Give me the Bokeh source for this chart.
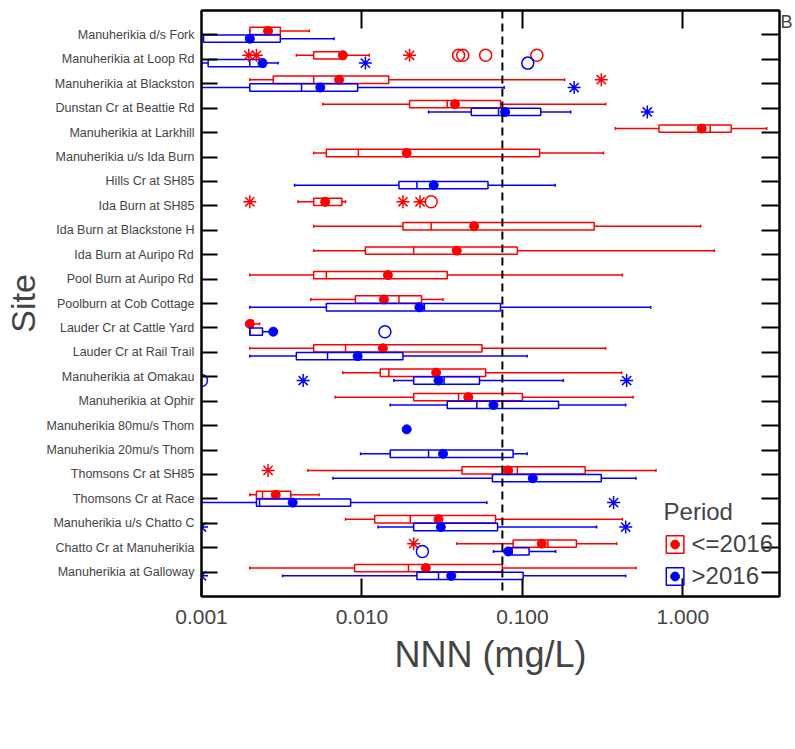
from bokeh.plotting import figure
from bokeh.models import (Range1d, FixedTicker, LogAxis, LinearAxis, Span,
                          Legend, LegendItem, ColumnDataSource, PrintfTickFormatter)
from bokeh.embed import file_html
from bokeh.resources import INLINE

SITES = ["Manuherikia d/s Fork", "Manuherikia at Loop Rd", "Manuherikia at Blackston",
         "Dunstan Cr at Beattie Rd", "Manuherikia at Larkhill", "Manuherikia u/s Ida Burn",
         "Hills Cr at SH85", "Ida Burn at SH85", "Ida Burn at Blackstone H",
         "Ida Burn at Auripo Rd", "Pool Burn at Auripo Rd", "Poolburn at Cob Cottage",
         "Lauder Cr at Cattle Yard", "Lauder Cr at Rail Trail", "Manuherikia at Omakau",
         "Manuherikia at Ophir", "Manuherikia 80mu/s Thom", "Manuherikia 20mu/s Thom",
         "Thomsons Cr at SH85", "Thomsons Cr at Race", "Manuherikia u/s Chatto C",
         "Chatto Cr at Manuherikia", "Manuherikia at Galloway"]

N = None
# Period <=2016 (red)
RED_LO   = [0.0020, 0.0039, 0.0020, 0.0057, 0.38, 0.0050, N, 0.0040, 0.0050, 0.0050, 0.0020, 0.0048,
            0.0020, 0.0020, 0.0076, 0.0068, N, N, 0.0046, 0.0020, 0.0079, 0.039, 0.0020]
RED_Q1   = [0.0020, 0.0050, 0.0028, 0.0198, 0.71, 0.0060, N, 0.0050, 0.018, 0.0105, 0.0050, 0.0091,
            0.0020, 0.0050, 0.013, 0.021, N, N, 0.042, 0.0022, 0.012, 0.0875, 0.0090]
RED_MED  = [0.0026, 0.0076, 0.0050, 0.034, 1.48, 0.0095, N, 0.0058, 0.027, 0.021, 0.0060, 0.017,
            0.0020, 0.0079, 0.0147, 0.040, N, N, 0.093, 0.0024, 0.020, 0.144, 0.0195]
RED_Q3   = [0.0031, 0.0079, 0.0147, 0.073, 2.0, 0.128, N, 0.0075, 0.28, 0.093, 0.034, 0.0235,
            0.0021, 0.056, 0.059, 0.10, N, N, 0.246, 0.0036, 0.068, 0.217, 0.075]
RED_HI   = [0.0047, 0.0111, 0.183, 0.33, 3.33, 0.32, N, 0.0079, 1.29, 1.57, 0.42, 0.032,
            0.0023, 0.33, 0.415, 0.49, N, N, 0.68, 0.0054, 0.42, 0.387, 0.51]
RED_MEAN = [0.0026, 0.0076, 0.0072, 0.038, 1.31, 0.019, N, 0.0059, 0.050, 0.039, 0.0145, 0.0137,
            0.0020, 0.0135, 0.029, 0.046, N, N, 0.0815, 0.0029, 0.030, 0.132, 0.025]

# Period >2016 (blue)
BLUE_LO   = [0.0010, 0.0010, 0.0010, 0.026, N, N, 0.0038, N, N, N, N, 0.0020,
             0.0020, 0.0020, 0.0158, 0.015, 0.019, 0.0098, 0.0066, 0.0010, 0.0126, 0.066, 0.0032]
BLUE_Q1   = [0.00103, 0.0011, 0.0020, 0.048, N, N, 0.017, N, N, N, N, 0.0060,
             0.0020, 0.0039, 0.021, 0.034, 0.019, 0.015, 0.065, 0.0022, 0.021, 0.080, 0.022]
BLUE_MED  = [0.0020, 0.0020, 0.0042, 0.071, N, N, 0.022, N, N, N, N, 0.0245,
             0.0020, 0.0061, 0.0325, 0.052, 0.019, 0.026, 0.119, 0.0023, 0.032, 0.086, 0.030]
BLUE_Q3   = [0.0031, 0.0025, 0.0094, 0.130, N, N, 0.061, N, N, N, N, 0.073,
             0.0024, 0.018, 0.054, 0.168, 0.019, 0.0875, 0.31, 0.0085, 0.070, 0.110, 0.101]
BLUE_HI   = [0.0067, 0.0030, 0.077, 0.20, N, N, 0.16, N, N, N, N, 0.63,
             0.0027, 0.107, 0.18, 0.44, 0.019, 0.107, 0.51, 0.060, 0.29, 0.161, 0.44]
BLUE_MEAN = [0.0020, 0.0024, 0.0055, 0.078, N, N, 0.028, N, N, N, N, 0.0228,
             0.0028, 0.0094, 0.030, 0.066, 0.019, 0.032, 0.116, 0.0037, 0.031, 0.0815, 0.036]

# Outliers: (site number 1-based, value)
RED_FAR_SITE = [2, 2, 2, 3, 8, 8, 8, 19, 22]
RED_FAR_VAL  = [0.00197, 0.0022, 0.0198, 0.31, 0.0020, 0.018, 0.023, 0.0026, 0.021]
RED_OUT_SITE = [2, 2, 2, 2, 8]
RED_OUT_VAL  = [0.040, 0.0425, 0.059, 0.123, 0.027]
BLUE_FAR_SITE = [2, 3, 4, 15, 15, 20, 21, 21, 23]
BLUE_FAR_VAL  = [0.0105, 0.21, 0.60, 0.0043, 0.446, 0.37, 0.001, 0.44, 0.001]
BLUE_OUT_SITE = [2, 13, 15, 22]
BLUE_OUT_VAL  = [0.108, 0.0139, 0.001, 0.0238]

GUIDELINE = 0.075
PERIODS = ["<=2016", ">2016"]

RED = "#ff0000"
BLUE = "#0000ff"
BOX_H = 0.3
CAP_H = 0.12
FONT = "Liberation Sans"

p = figure(width=795, height=749, x_axis_type="log",
           x_range=Range1d(0.001, 4.0), y_range=Range1d(24, 0),
           output_backend="svg", toolbar_location=None,
           min_border_left=197, min_border_right=12, min_border_top=10, min_border_bottom=153)
p.xgrid.visible = False
p.ygrid.visible = False
p.outline_line_color = "black"
p.outline_line_width = 2
p.background_fill_color = "white"
p.border_fill_color = "white"


def draw_period(lo, q1, med, q3, hi, mean, off, color):
    idx = [i for i in range(len(SITES)) if lo[i] is not None]
    y = [i + 1 + off for i in idx]
    src = ColumnDataSource(dict(
        y=y, ylo=[v - BOX_H / 2 for v in y], yhi=[v + BOX_H / 2 for v in y],
        clo=[v - CAP_H / 2 for v in y], chi=[v + CAP_H / 2 for v in y],
        lo=[lo[i] for i in idx], q1=[q1[i] for i in idx], med=[med[i] for i in idx],
        q3=[q3[i] for i in idx], hi=[hi[i] for i in idx], mean=[mean[i] for i in idx]))
    p.segment(x0="lo", x1="q1", y0="y", y1="y", source=src, line_color=color, line_width=1.5)
    p.segment(x0="q3", x1="hi", y0="y", y1="y", source=src, line_color=color, line_width=1.5)
    p.segment(x0="lo", x1="lo", y0="clo", y1="chi", source=src, line_color=color, line_width=1.5)
    p.segment(x0="hi", x1="hi", y0="clo", y1="chi", source=src, line_color=color, line_width=1.5)
    box = p.hbar(y="y", left="q1", right="q3", height=BOX_H, source=src,
                 fill_color="white", fill_alpha=0.0, line_color=color, line_width=1.5)
    p.segment(x0="med", x1="med", y0="ylo", y1="yhi", source=src, line_color=color, line_width=1.5)
    dot = p.scatter(x="mean", y="y", source=src, size=9, marker="circle",
                    fill_color=color, line_color=color)
    return box, dot


def draw_outliers(sites, vals, off, color, marker):
    src = ColumnDataSource(dict(x=vals, y=[s + off for s in sites]))
    if marker == "asterisk":
        p.scatter(x="x", y="y", source=src, marker="asterisk", size=13,
                  line_color=color, line_width=1.5)
    else:
        p.scatter(x="x", y="y", source=src, marker="circle", size=12,
                  fill_color=None, line_color=color, line_width=1.5)


RED_OFF, BLUE_OFF = -0.165, 0.155
red_box, red_dot = draw_period(RED_LO, RED_Q1, RED_MED, RED_Q3, RED_HI, RED_MEAN, RED_OFF, RED)
blue_box, blue_dot = draw_period(BLUE_LO, BLUE_Q1, BLUE_MED, BLUE_Q3, BLUE_HI, BLUE_MEAN, BLUE_OFF, BLUE)
draw_outliers(RED_FAR_SITE, RED_FAR_VAL, RED_OFF, RED, "asterisk")
draw_outliers(RED_OUT_SITE, RED_OUT_VAL, RED_OFF, RED, "circle")
draw_outliers(BLUE_FAR_SITE, BLUE_FAR_VAL, BLUE_OFF, BLUE, "asterisk")
draw_outliers(BLUE_OUT_SITE, BLUE_OUT_VAL, BLUE_OFF, BLUE, "circle")

p.add_layout(Span(location=GUIDELINE, dimension="height", line_color="black",
                  line_width=2, line_dash="8 5"))

# Bottom x axis
xa = p.xaxis[0]
xa.ticker = FixedTicker(ticks=[0.001, 0.01, 0.1, 1.0], minor_ticks=[])
xa.formatter = PrintfTickFormatter(format="%.3f")
xa.major_tick_in = 18
xa.major_tick_out = 0
xa.minor_tick_in = 0
xa.minor_tick_out = 0
xa.axis_line_width = 2
xa.major_tick_line_width = 2
xa.major_label_text_font = FONT
xa.major_label_text_font_size = "21px"
xa.major_label_standoff = 13
xa.axis_label = "NNN (mg/L)"
xa.axis_label_text_font = FONT
xa.axis_label_text_font_size = "36px"
xa.axis_label_text_font_style = "normal"
xa.axis_label_standoff = 7

# Left y axis
ya = p.yaxis[0]
ya.ticker = FixedTicker(ticks=list(range(1, len(SITES) + 1)), minor_ticks=[])
ya.major_label_overrides = {i + 1: s for i, s in enumerate(SITES)}
ya.major_tick_in = 16
ya.major_tick_out = 0
ya.minor_tick_in = 0
ya.minor_tick_out = 0
ya.axis_line_width = 2
ya.major_tick_line_width = 2
ya.major_label_text_font = FONT
ya.major_label_text_font_size = "12.5px"
ya.major_label_standoff = 7
ya.axis_label = "Site"
ya.axis_label_text_font = FONT
ya.axis_label_text_font_size = "34px"
ya.axis_label_text_font_style = "normal"
ya.axis_label_standoff = 2

# Right axis (ticks only)
ra = LinearAxis(ticker=FixedTicker(ticks=list(range(1, len(SITES) + 1)), minor_ticks=[]),
                major_label_text_font_size="1px", major_label_text_color=None,
                major_label_standoff=0,
                major_tick_in=18, major_tick_out=0, minor_tick_in=0, minor_tick_out=0,
                axis_line_width=2, major_tick_line_width=2)
p.add_layout(ra, "right")

# Panel letter "B" beside the top-right corner
B_POS = 0.47
rb = LinearAxis(ticker=FixedTicker(ticks=[B_POS], minor_ticks=[]),
                major_label_overrides={B_POS: "B"},
                major_label_text_font=FONT, major_label_text_font_size="18px",
                major_label_standoff=1, axis_line_color=None, major_tick_line_color=None,
                major_tick_in=0, major_tick_out=0, minor_tick_in=0, minor_tick_out=0)
p.add_layout(rb, "right")

# Top axis (ticks only)
ta = LogAxis(ticker=FixedTicker(ticks=[0.01, 0.1, 1.0], minor_ticks=[]),
             major_label_text_font_size="1px", major_label_text_color=None,
             major_label_standoff=0,
             major_tick_in=18, major_tick_out=0, minor_tick_in=0, minor_tick_out=0,
             axis_line_width=2, major_tick_line_width=2)
p.add_layout(ta, "above")

# Legend ("Period") in the empty lower-right corner of the plot area
legend = Legend(items=[LegendItem(label=PERIODS[0], renderers=[red_box, red_dot]),
                       LegendItem(label=PERIODS[1], renderers=[blue_box, blue_dot])],
                title="Period", title_text_font=FONT, title_text_font_size="24px",
                title_text_font_style="normal", title_standoff=4,
                location="bottom_right", orientation="vertical",
                glyph_width=22, glyph_height=22, label_standoff=6, spacing=4,
                padding=2, margin=6, border_line_color=None, background_fill_alpha=0,
                label_text_font=FONT, label_text_font_size="24px", label_height=26)
p.add_layout(legend, "center")

open("out.html", "w").write(file_html(p, INLINE))
